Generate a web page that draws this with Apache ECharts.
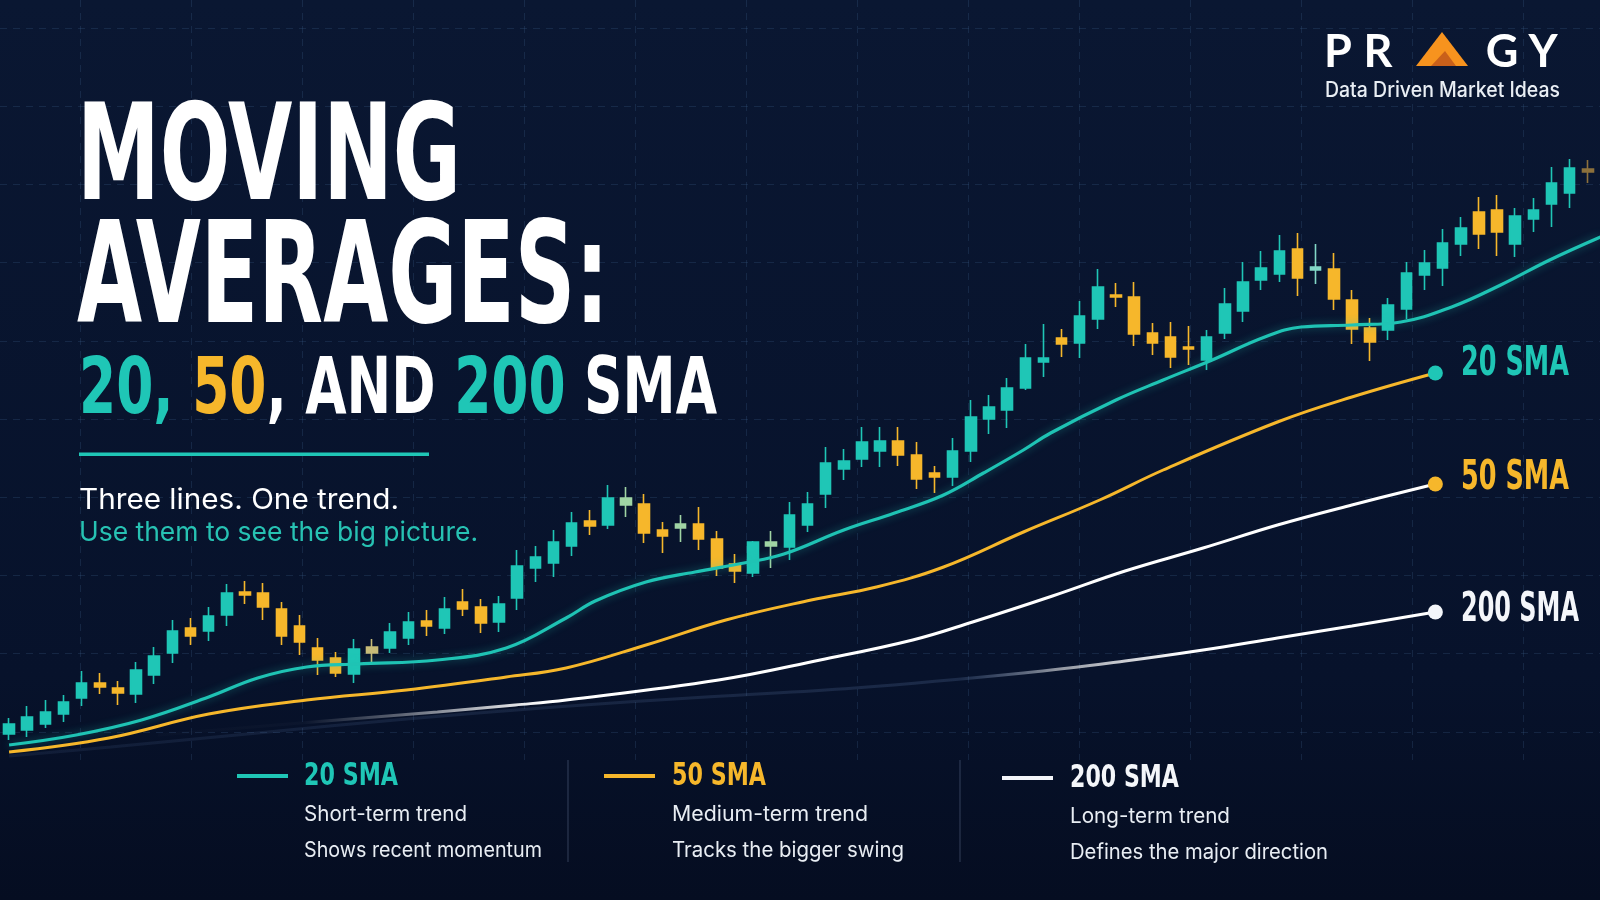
<!DOCTYPE html>
<html>
<head>
<meta charset="utf-8">
<script src="https://cdn.jsdelivr.net/npm/echarts@6/dist/echarts.min.js"></script>
<style>
html,body{margin:0;padding:0;background:#08132b;}
#chart{width:1600px;height:900px;}
</style>
</head>
<body>
<div id="chart"></div>
<script>
// ---------------- DATA ----------------
// Candle index = trading day; prices are in chart units.
const days = Array.from({length: 88}, (_, i) => 'Day ' + (i + 1));

const openPrices  = [166,170,176,186,202,217,212,206,225,247,272,269,285,308,307,291,274,252,242,226,247,252,262,279,272,298,293,278,302,332,337,354,379,375,402,396,370,372,376,361,336,327,354,353,375,406,431,441,449,459,445,427,423,449,481,490,512,538,562,557,581,605,603,567,563,553,540,567,589,620,626,651,630,631,600,572,570,591,625,632,656,688,690,656,681,696,707,731];
const closePrices = [176,183,188,198,217,213,207,230,244,269,264,284,307,305,293,264,258,240,227,251,253,268,278,274,291,291,277,296,334,343,358,377,374,402,395,367,364,376,361,332,329,358,358,385,396,437,439,458,459,445,421,423,449,483,493,512,542,542,556,584,613,603,566,557,543,551,563,596,618,632,649,622,633,601,571,558,595,627,637,657,672,666,668,684,690,717,732,728];
const highPrices  = [182,194,200,205,229,227,219,238,253,280,282,293,316,319,317,298,285,262,248,261,261,277,288,290,303,311,301,304,350,354,370,388,390,415,413,406,378,385,393,369,346,359,369,398,408,453,451,473,473,473,458,434,462,500,505,522,556,576,571,599,631,617,618,577,578,574,570,612,638,649,665,667,656,647,610,582,602,638,650,671,683,703,705,692,702,733,741,740];
const lowPrices   = [160,163,172,178,194,206,195,197,216,237,255,259,274,296,280,255,245,225,223,217,238,247,255,264,266,284,267,268,290,318,323,344,365,371,383,357,347,358,350,324,317,323,332,340,368,392,420,433,433,434,411,407,414,438,466,472,510,523,543,542,571,593,554,545,532,535,530,561,578,610,618,604,616,590,556,539,560,581,610,614,644,651,644,643,668,673,692,717];

// Smooth trend lines: x in candle-index units, y in price units
const trendX  = [0,3.7,7.3,11.0,13.7,16.4,19.2,23.6,27.4,30.7,32.3,35.1,37.8,40.5,42.7,46.0,48.8,51.5,53.7,55.9,57.4,61.0,63.6,66.3,69.2,71.2,74.0,76.7,79.5,82.2,84.9,87.7];
const trendY  = [155,165,180,203,222,233,236,240,252,282,299,318,328,337,346,370,387,405,427,450,467,500,520,540,563,573,575,578,593,615,640,663];
const sma20X  = [0,5.5,11.0,16.4,21.9,27.4,30.7,35.1,39.5,44.2,47.8,51.5,55.9,60.1,63.6,69.9,74.0,78.6];
const sma20Y  = [148,162,186,200,210,223,232,255,280,300,313,333,368,400,430,478,503,527];
const sma50X  = [8.2,18.1,23.6,27.9,30.7,39.1,44.7,49.8,53.1,57.5,61.5,65.8,69.9,74.0,78.6];
const sma50Y  = [165,180,188,195,200,220,240,260,278,304,329,352,375,395,416];
const sma200X = [0,5.6,13.7,21.9,30.1,38.4,46.6,55.9,61.5,65.8,69.9,74.0,78.6];
const sma200Y = [144,153,167,181,193,203,212,227,239,250,262,274,288];

const lineNames = ['20 SMA', '50 SMA', '200 SMA'];
const legendDescriptions = [
  ['Short-term trend', 'Shows recent momentum'],
  ['Medium-term trend', 'Tracks the bigger swing'],
  ['Long-term trend', 'Defines the major direction']
];

// ---------------- STYLE ----------------
const TEAL = '#1fc6b6', AMBER = '#f6b72b', WHITE = '#f4f6fa';
const CONDENSED = "'Liberation Sans Narrow','DejaVu Sans Condensed',sans-serif";
const SANS = "Inter,'Open Sans',Roboto,sans-serif";
const specialCandleColors = {20:'#c8bc78', 34:'#a0d4a4', 37:'#a0d4a4', 42:'#a0d4a4', 72:'#82d7c7', 87:'#8d713c'};

const candleData = openPrices.map((o, i) => {
  const item = {value: [o, closePrices[i], lowPrices[i], highPrices[i]]};
  const c = specialCandleColors[i];
  if (c) item.itemStyle = {color: c, color0: c, borderColor: c, borderColor0: c};
  return item;
});
const pairs = (xs, ys) => xs.map((x, i) => [x, ys[i]]);

const measureCtx = document.createElement('canvas').getContext('2d');
function textEl(o) {
  const font = `${o.weight || 'normal'} ${o.size}px ${o.family}`;
  measureCtx.font = font;
  const plain = o.plain || o.text;
  const w = measureCtx.measureText(plain).width;
  const sx = o.width ? o.width / w : 1;
  const k = o.family === CONDENSED ? 0.067 : 0.04;
  const style = {
    text: o.text, font: font, fill: o.fill,
    textAlign: 'left', align: 'left',
    textVerticalAlign: 'middle', verticalAlign: 'middle'
  };
  if (o.rich) style.rich = o.rich;
  return {type: 'text', x: o.x, y: o.y + k * o.size, scaleX: sx, originX: 0, originY: 0,
          z: 100, silent: true, style};
}
function logoLetter(ch, cx) {
  return {type: 'text', x: cx, y: 52, z: 100, silent: true,
    style: {text: ch, font: `bold 45px Lato,${SANS}`, fill: '#ffffff', textAlign: 'center', align: 'center',
            textVerticalAlign: 'middle', verticalAlign: 'middle'}};
}

const titleFontSize = 78;
const richFont = `bold ${titleFontSize}px ${CONDENSED}`;
const graphics = [
  textEl({text: 'MOVING', x: 77, y: 155, size: 134, weight: 'bold', family: CONDENSED, fill: '#ffffff', width: 384}),
  textEl({text: 'AVERAGES:', x: 77, y: 276, size: 141, weight: 'bold', family: CONDENSED, fill: '#ffffff', width: 532}),
  textEl({
    text: '{t|20,} {y|50}{w|, AND} {t|200} {w|SMA}', plain: '20, 50, AND 200 SMA',
    x: 79, y: 388, size: titleFontSize, weight: 'bold', family: CONDENSED, fill: '#ffffff', width: 638,
    rich: {t: {fill: TEAL, font: richFont}, y: {fill: AMBER, font: richFont}, w: {fill: '#ffffff', font: richFont}}
  }),
  {type: 'rect', z: 100, silent: true, shape: {x: 79, y: 452.5, width: 350, height: 3.5}, style: {fill: TEAL}},
  textEl({text: 'Three lines. One trend.', x: 79, y: 499, size: 28, family: SANS, fill: '#ffffff', width: 320}),
  textEl({text: 'Use them to see the big picture.', x: 79, y: 532, size: 27, family: SANS, fill: '#27c2b3', width: 399}),
  // logo
  logoLetter('P', 1338),
  logoLetter('R', 1378),
  {type: 'polygon', z: 100, silent: true, shape: {points: [[1416, 66], [1442, 32], [1468, 66]]}, style: {fill: '#f7931e'}},
  {type: 'polygon', z: 101, silent: true, shape: {points: [[1431, 66], [1445, 51], [1456, 66]]}, style: {fill: '#c9601a'}},
  logoLetter('G', 1502),
  logoLetter('Y', 1543),
  textEl({text: 'Data Driven Market Ideas', x: 1325, y: 90, size: 21, weight: 500, family: SANS, fill: '#e9eef4', width: 235})
];

// labels at the ends of the three average lines
const endLabels = [
  {y: 362, color: TEAL, w: 108},
  {y: 476, color: AMBER, w: 108},
  {y: 608, color: WHITE, w: 118}
];
endLabels.forEach((l, k) => graphics.push(textEl({text: lineNames[k], x: 1461, y: l.y, size: 41, weight: 'bold', family: CONDENSED, fill: l.color, width: l.w})));

// bottom legend
const legendCols = [
  {dashX: 237, textX: 304, color: TEAL, nameW: 94, descW: [163, 238], y: 776},
  {dashX: 604, textX: 672, color: AMBER, nameW: 94, descW: [196, 232], y: 776},
  {dashX: 1002, textX: 1070, color: WHITE, nameW: 109, descW: [160, 258], y: 778}
];
legendCols.forEach((c, k) => {
  graphics.push({type: 'line', z: 100, silent: true, shape: {x1: c.dashX, y1: c.y, x2: c.dashX + 51, y2: c.y}, style: {stroke: c.color, lineWidth: 4}});
  graphics.push(textEl({text: lineNames[k], x: c.textX, y: c.y - 1, size: 32, weight: 'bold', family: CONDENSED, fill: c.color, width: c.nameW}));
  graphics.push(textEl({text: legendDescriptions[k][0], x: c.textX, y: c.y + 38, size: 21, family: SANS, fill: '#e8edf3', width: c.descW[0]}));
  graphics.push(textEl({text: legendDescriptions[k][1], x: c.textX, y: c.y + 74, size: 21, family: SANS, fill: '#e8edf3', width: c.descW[1]}));
});
[568, 960].forEach(x => graphics.push({type: 'line', z: 100, silent: true, shape: {x1: x, y1: 760, x2: x, y2: 862}, style: {stroke: 'rgba(160,185,220,0.25)', lineWidth: 1.2}}));

// ---------------- CHART ----------------
const chart = echarts.init(document.getElementById('chart'), null, {renderer: 'canvas'});
const gridLine = {show: true, lineStyle: {color: 'rgba(60,95,140,0.26)', type: [7, 6], width: 1}};
const hidden = {axisLine: {show: false}, axisTick: {show: false}, axisLabel: {show: false}};

function smaSeries(name, xs, ys, lineColor, dotColor) {
  const last = xs.length - 1;
  return {
    name, type: 'line', xAxisIndex: 1, yAxisIndex: 0, data: pairs(xs, ys),
    smooth: 0.4, clip: false, z: 5,
    showSymbol: true, symbol: 'circle',
    symbolSize: (v, p) => (p.dataIndex === last ? 15 : 0),
    itemStyle: {color: dotColor},
    lineStyle: {color: lineColor, width: 3},
    emphasis: {disabled: true}
  };
}

chart.setOption({
  animation: false,
  backgroundColor: {type: 'linear', x: 0, y: 0, x2: 0, y2: 1,
    colorStops: [{offset: 0, color: '#0a1732'}, {offset: 0.75, color: '#07122b'}, {offset: 1, color: '#050d21'}]},
  grid: [
    {left: -9.125, top: 0, width: 1606, height: 900},
    {left: 80, top: 0, width: 1520, height: 760},
    {left: 0, top: 28, width: 1600, height: 703.8}
  ],
  xAxis: [
    {type: 'category', gridIndex: 0, data: days, show: false, boundaryGap: true},
    {type: 'value', gridIndex: 0, min: -0.5, max: 87.5, show: false},
    {type: 'value', gridIndex: 1, min: 0, max: 1520, interval: 111, ...hidden, splitLine: gridLine},
    {type: 'value', gridIndex: 2, min: 0, max: 1600, ...hidden, splitLine: {show: false}}
  ],
  yAxis: [
    {type: 'value', gridIndex: 0, min: 0, max: 900, show: false},
    {type: 'value', gridIndex: 1, min: 0, max: 760, ...hidden, splitLine: {show: false}},
    {type: 'value', gridIndex: 2, min: 0, max: 703.8, interval: 78.2, inverse: true, ...hidden, splitLine: gridLine}
  ],
  series: [
    {
      name: 'Price', type: 'candlestick', xAxisIndex: 0, yAxisIndex: 0, data: candleData,
      barWidth: 11, z: 3,
      itemStyle: {color: TEAL, color0: AMBER, borderColor: TEAL, borderColor0: AMBER, borderWidth: 1.6},
      emphasis: {disabled: true}
    },
    {
      name: 'Price trend', type: 'line', xAxisIndex: 1, yAxisIndex: 0, data: pairs(trendX, trendY),
      smooth: 0.4, clip: false, showSymbol: false, z: 4,
      lineStyle: {color: '#1fc3b4', width: 3.2, shadowBlur: 8, shadowColor: 'rgba(31,195,180,0.45)'}
    },
    smaSeries('20 SMA', sma20X, sma20Y, AMBER, TEAL),
    smaSeries('50 SMA', sma50X, sma50Y,
      {type: 'linear', x: 0, y: 0, x2: 1600, y2: 0, global: true, colorStops: [
        {offset: 0, color: 'rgba(255,255,255,0)'}, {offset: 0.19, color: 'rgba(255,255,255,0.02)'},
        {offset: 0.25, color: 'rgba(255,255,255,0.35)'}, {offset: 0.34, color: 'rgba(255,255,255,1)'},
        {offset: 1, color: '#ffffff'}]},
      AMBER),
    smaSeries('200 SMA', sma200X, sma200Y,
      {type: 'linear', x: 0, y: 0, x2: 1600, y2: 0, global: true, colorStops: [
        {offset: 0, color: 'rgba(90,120,170,0.12)'}, {offset: 0.6, color: 'rgba(110,140,190,0.2)'},
        {offset: 0.66, color: 'rgba(255,255,255,0.55)'}, {offset: 0.74, color: 'rgba(255,255,255,1)'},
        {offset: 1, color: '#ffffff'}]},
      WHITE)
  ],
  graphic: graphics
});
</script>
</body>
</html>
